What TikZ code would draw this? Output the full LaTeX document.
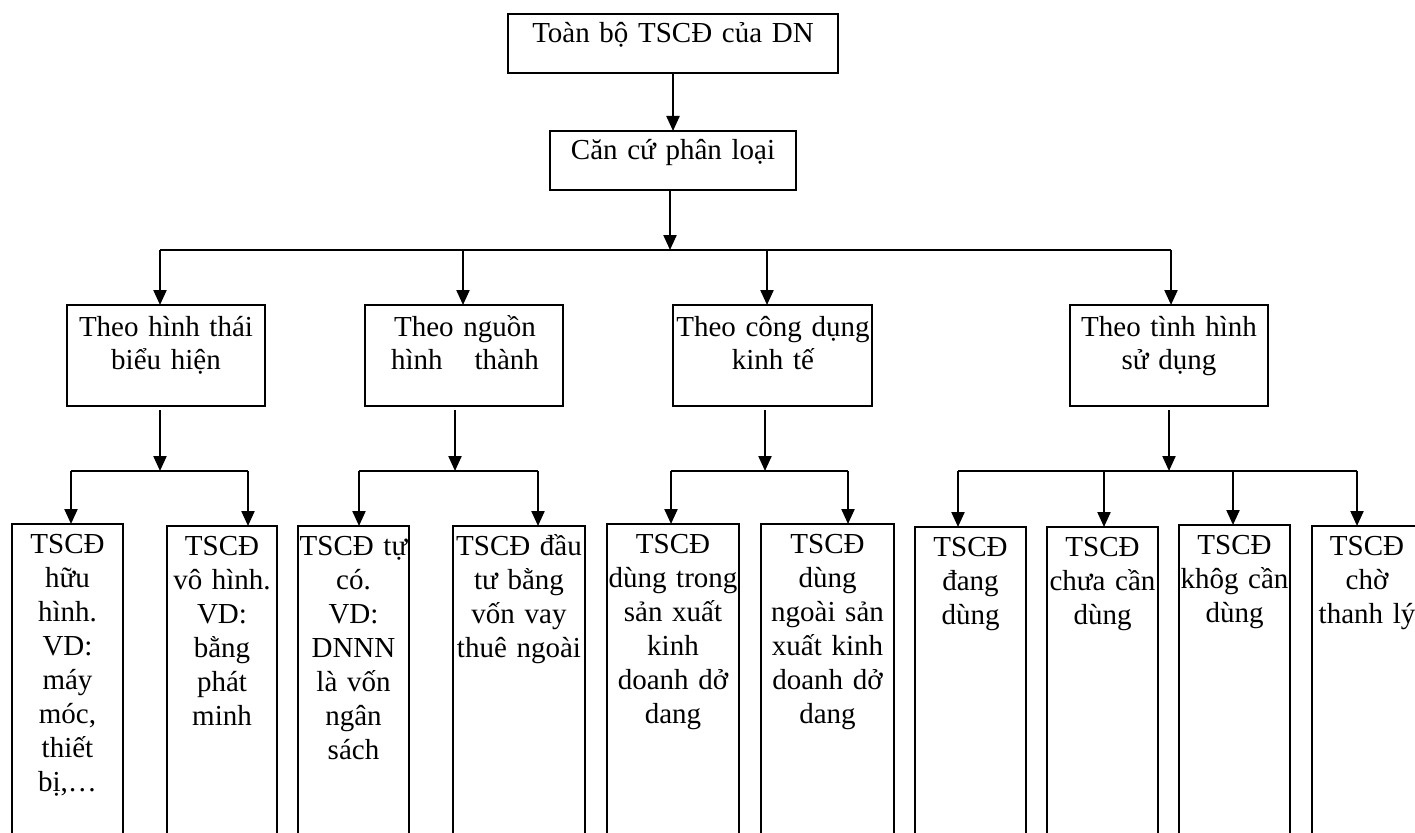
\documentclass[tikz,border=0pt]{standalone}
\usepackage{fontspec}
\setmainfont{Liberation Serif}
\usetikzlibrary{arrows.meta,calc}
\newcommand\fsz{\fontsize{29pt}{34pt}\selectfont}
\newcommand\fszb{\fontsize{29pt}{33pt}\selectfont}
\newcommand\mkbox[5]{\node[bx, minimum width={(#4-#2)*1pt}, minimum height={(#5-#3)*1pt}] (#1) at (#2,#3) {};}
\begin{document}
\begin{tikzpicture}[x=1pt,y=-1pt,
  bx/.style={draw, line width=1.6pt, inner sep=0pt, outer sep=0pt, anchor=north west},
  tx/.style={text width=400pt, align=center, anchor=base, inner sep=0pt, font=\fsz},
  txb/.style={tx, font=\fszb},
  conn/.style={line width=2.2pt},
  arr/.style={conn, -{Triangle[width=13pt,length=15pt]}}]
\path[use as bounding box] (0,0) rectangle (1415,832);
\clip (0,0) rectangle (1415,832);
\fill[white] (0,0) rectangle (1415,832);

% level 0 / 1
\mkbox{top}{508}{14}{838}{73}
\node[tx] (topt) at (673,43) {Toàn bộ TSCĐ của DN};
\mkbox{cc}{550}{131}{796}{190}
\node[tx] (cct) at (673,159) {Căn cứ phân loại};

% level 2
\mkbox{A}{67}{305}{265}{406}
\mkbox{B}{365}{305}{563}{406}
\mkbox{C}{673}{305}{872}{406}
\mkbox{D}{1070}{305}{1268}{406}
\node[txb] (At) at (166,336) {Theo hình thái\\biểu hiện};
\node[txb] (Bt) at (465,336) {Theo nguồn\\hình\hspace*{32pt}thành};
\node[txb] (Ct) at (773,336) {Theo công dụng\\kinh tế};
\node[txb] (Dt) at (1169,336) {Theo tình hình\\sử dụng};

% level 3
\mkbox{b1}{12}{524}{123}{850}
\mkbox{b2}{167}{526}{277}{850}
\mkbox{b3}{298}{526}{409}{850}
\mkbox{b4}{453}{526}{585}{850}
\mkbox{b5}{607}{524}{739}{850}
\mkbox{b6}{761}{524}{894}{850}
\mkbox{b7}{915}{527}{1026}{850}
\mkbox{b8}{1047}{527}{1158}{850}
\mkbox{b9}{1179}{525}{1290}{850}
\mkbox{b10}{1312}{526}{1422}{850}
\node[tx] (t1) at (67.5,553) {TSCĐ\\hữu\\hình.\\VD:\\máy\\móc,\\thiết\\bị,…};
\node[tx] (t2) at (222,555) {TSCĐ\\vô hình.\\VD:\\bằng\\phát\\minh};
\node[tx] (t3) at (353.5,555) {TSCĐ tự\\có.\\VD:\\DNNN\\là vốn\\ngân\\sách};
\node[tx] (t4) at (519,555) {TSCĐ đầu\\tư bằng\\vốn vay\\thuê ngoài};
\node[tx] (t5) at (673,553) {TSCĐ\\dùng trong\\sản xuất\\kinh\\doanh dở\\dang};
\node[tx] (t6) at (827.5,553) {TSCĐ\\dùng\\ngoài sản\\xuất kinh\\doanh dở\\dang};
\node[tx] (t7) at (970.5,556) {TSCĐ\\đang\\dùng};
\node[tx] (t8) at (1102.5,556) {TSCĐ\\chưa cần\\dùng};
\node[tx] (t9) at (1234.5,554) {TSCĐ\\khôg cần\\dùng};
\node[tx] (t10) at (1367,555) {TSCĐ\\chờ\\thanh lý};

% connectors level 0-1
\draw[arr] (top.south) -- (cc.north);
\coordinate (j0) at (670,250);
\draw[arr] (cc.south -| j0) -- (j0);
\coordinate (jA) at (160,250);
\coordinate (jB) at (463,250);
\coordinate (jC) at (767,250);
\coordinate (jD) at (1171,250);
\draw[conn] (jA) -- (jD);
\draw[arr] (jA) -- (jA |- A.north);
\draw[arr] (jB) -- (jB |- B.north);
\draw[arr] (jC) -- (jC |- C.north);
\draw[arr] (jD) -- (jD |- D.north);

% level 2 -> buses
\coordinate (kA) at (160,471);
\coordinate (kB) at (455,471);
\coordinate (kC) at (765,471);
\coordinate (kD) at (1169,471);
\draw[arr] ($(A.south -| kA)+(0,4)$) -- (kA);
\draw[arr] ($(B.south -| kB)+(0,4)$) -- (kB);
\draw[arr] ($(C.south -| kC)+(0,4)$) -- (kC);
\draw[arr] ($(D.south -| kD)+(0,4)$) -- (kD);

% buses and drops
\coordinate (a1) at (71,471);  \coordinate (a2) at (248,471);
\coordinate (c3) at (359,471); \coordinate (c4) at (538,471);
\coordinate (c5) at (671,471); \coordinate (c6) at (848,471);
\coordinate (c7) at (958,471); \coordinate (c8) at (1104,471);
\coordinate (c9) at (1233,471); \coordinate (c10) at (1357,471);
\draw[conn] (a1) -- (a2);
\draw[conn] (c3) -- (c4);
\draw[conn] (c5) -- (c6);
\draw[conn] (c7) -- (c10);
\draw[arr] (a1) -- (a1 |- b1.north);
\draw[arr] (a2) -- (a2 |- b2.north);
\draw[arr] (c3) -- (c3 |- b3.north);
\draw[arr] (c4) -- (c4 |- b4.north);
\draw[arr] (c5) -- (c5 |- b5.north);
\draw[arr] (c6) -- (c6 |- b6.north);
\draw[arr] (c7) -- (c7 |- b7.north);
\draw[arr] (c8) -- (c8 |- b8.north);
\draw[arr] (c9) -- (c9 |- b9.north);
\draw[arr] (c10) -- (c10 |- b10.north);
\end{tikzpicture}
\end{document}
